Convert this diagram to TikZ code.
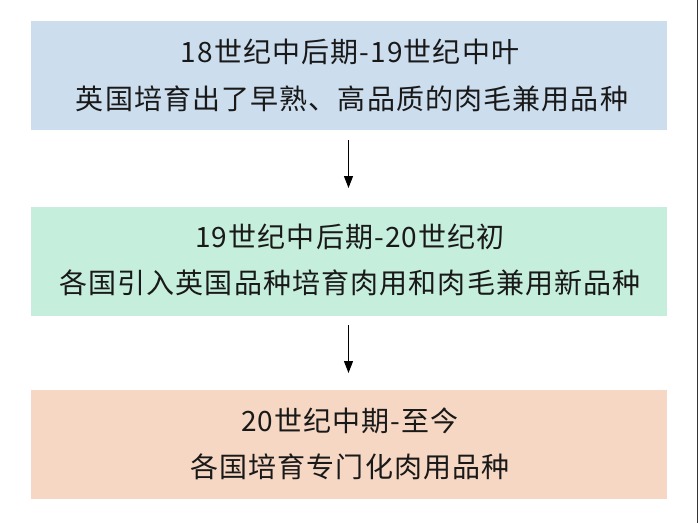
\documentclass[tikz,border=0pt]{standalone}
\usepackage{fontspec}
\newfontfamily\cjk[LetterSpace=4]{Noto Sans CJK SC}
\usetikzlibrary{arrows.meta}
\definecolor{boxblue}{RGB}{204,221,238}
\definecolor{boxgreen}{RGB}{198,238,220}
\definecolor{boxpeach}{RGB}{246,215,195}
\definecolor{txt}{RGB}{25,25,25}
\tikzset{
  stagebox/.style={minimum width=636pt, minimum height=109pt, inner sep=0pt, draw=none},
  stagetext/.style={font=\cjk\fontsize{28}{32}\selectfont, text=txt, inner sep=0pt, anchor=center},
  flowarrow/.style={-{Triangle[width=9pt,length=12pt]}, line width=1.1pt, black}
}
\begin{document}
\begin{tikzpicture}[x=1pt,y=-1pt]
\useasboundingbox[fill=white] (0,0) rectangle (700,523);
\node[stagebox, fill=boxblue] (b1) at (349,75.5) {};
\node[stagebox, fill=boxgreen] (b2) at (349,261.5) {};
\node[stagebox, fill=boxpeach] (b3) at (349,444.5) {};
\node[stagetext] (t1a) at (350,52) {18世纪中后期-19世纪中叶};
\node[stagetext] (t1b) at (352,99) {英国培育出了早熟、高品质的肉毛兼用品种};
\node[stagetext] (t2a) at (350,237) {19世纪中后期-20世纪初};
\node[stagetext] (t2b) at (350,283) {各国引入英国品种培育肉用和肉毛兼用新品种};
\node[stagetext] (t3a) at (350,421) {20世纪中期-至今};
\node[stagetext] (t3b) at (350,467) {各国培育专门化肉用品种};
\coordinate (a1s) at (348.5,140);
\coordinate (a1e) at (348.5,188);
\coordinate (a2s) at (348.5,325);
\coordinate (a2e) at (348.5,373);
\draw[flowarrow] (a1s) -- (a1e);
\draw[flowarrow] (a2s) -- (a2e);
\coordinate (edgetop) at (697.8,0);
\coordinate (edgebot) at (697.8,523);
\draw[line width=1pt, black!80] (edgetop) -- (edgebot);
\end{tikzpicture}
\end{document}
